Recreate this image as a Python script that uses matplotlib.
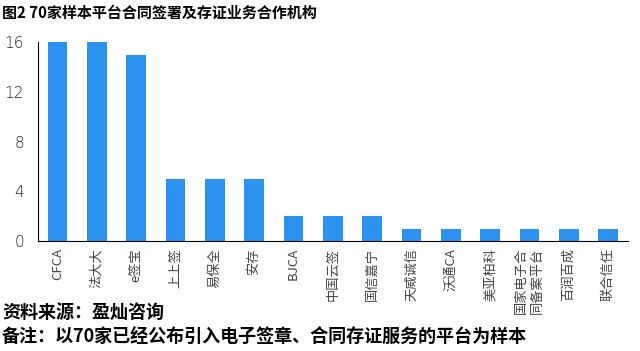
import matplotlib.pyplot as plt

plt.rcParams['font.family'] = ['Noto Sans CJK SC', 'DejaVu Sans']

# data
names = ['CFCA', '法大大', 'e签宝', '上上签', '易保全', '安存', 'BJCA', '中国云签',
         '国信嘉宁', '天威诚信', '沃通CA', '美亚柏科', '国家电子合\n同备案平台', '百润百成', '联合信任']
counts = [16, 16, 15, 5, 5, 5, 2, 2, 2, 1, 1, 1, 1, 1, 1]
yticks = [0, 4, 8, 12, 16]

fig = plt.figure(figsize=(6.4, 3.51), dpi=100)
ax = fig.add_axes([0.059, 0.313, 0.922, 0.567])

x = range(len(names))
ax.bar(x, counts, width=0.5, color='#2b92ef')

ax.set_xlim(-0.5, len(names) - 0.5)
ax.set_ylim(0, 16)
ax.set_yticks(yticks)
ax.set_xticks(list(x))
ax.set_xticklabels(names, rotation=90, fontsize=9.5, color='#444444',
                   linespacing=1.25, va='top')
ax.tick_params(axis='both', length=0)
ax.tick_params(axis='y', labelsize=11, colors='#222222', pad=10)
ax.tick_params(axis='x', pad=5)
for lbl in ax.get_yticklabels():
    lbl.set_fontfamily('DejaVu Sans')
    lbl.set_fontweight('light')

for s in ['top', 'right']:
    ax.spines[s].set_visible(False)
ax.spines['left'].set_linewidth(0.8)
ax.spines['bottom'].set_linewidth(0.8)

fig.text(0.003, 0.962, '图2 70家样本平台合同签署及存证业务合作机构', fontsize=10.8,
         fontweight='bold', va='center')
fig.text(0.003, 0.11, '资料来源：盈灿咨询', fontsize=13, fontweight='bold', va='center')
fig.text(0.003, 0.04, '备注：以70家已经公布引入电子签章、合同存证服务的平台为样本', fontsize=13,
         fontweight='bold', va='center')

fig.savefig('out.png', dpi=100)
